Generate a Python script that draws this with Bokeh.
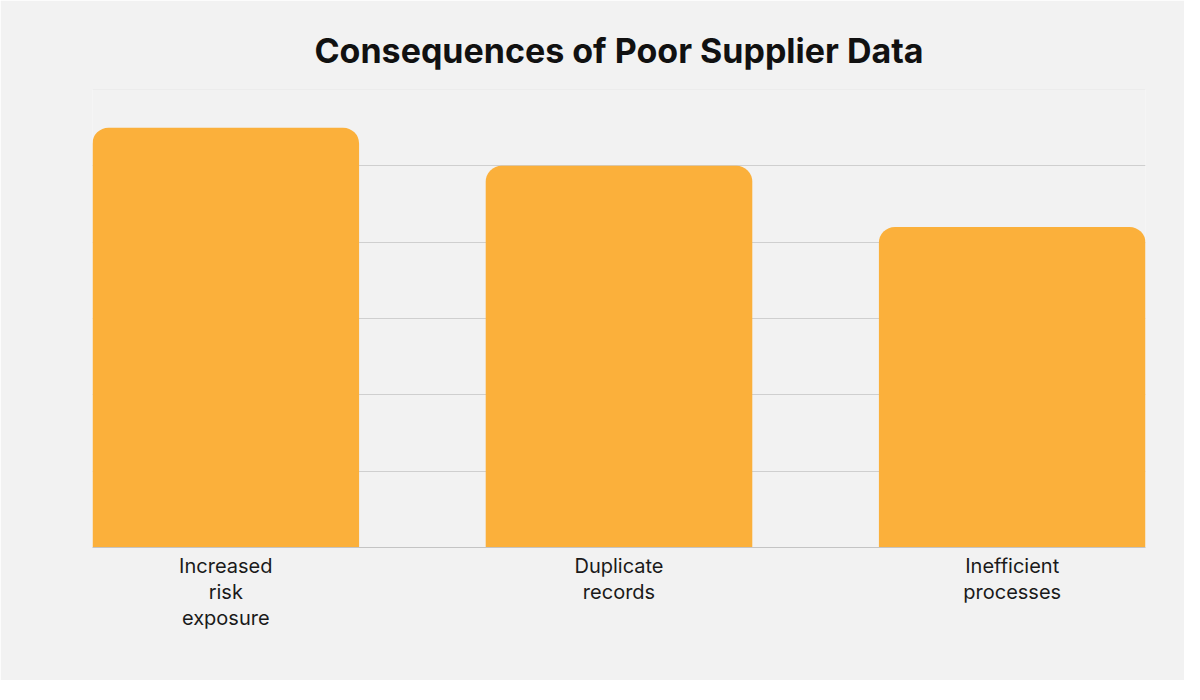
from bokeh.plotting import figure
from bokeh.models import Range1d, FixedTicker, Span, Title
from bokeh.embed import file_html
from bokeh.resources import INLINE

categories = ["Increased\nrisk\nexposure", "Duplicate\nrecords", "Inefficient\nprocesses"]
values = [5.5, 5.0, 4.2]
grid_ticks = [1, 2, 3, 4, 5]

bar_width = 0.678
xs = list(range(len(categories)))

p = figure(width=1184, height=680, output_backend="svg", toolbar_location=None,
           x_range=Range1d(-bar_width / 2, xs[-1] + bar_width / 2),
           y_range=Range1d(0, 6),
           min_border_left=92, min_border_right=39, min_border_bottom=133,
           min_border_top=89)

p.background_fill_color = "#f2f2f2"
p.border_fill_color = "#f2f2f2"
p.outline_line_color = None

t = Title(text="Consequences of Poor Supplier Data", align="center",
          text_font="Inter", text_font_size="34px", text_font_style="bold",
          text_color="#111111", standoff=38)
p.add_layout(t, "above")

p.vbar(x=xs, top=values, width=bar_width, bottom=0,
       fill_color="#fbb03b", line_color=None, border_radius=(16, 16, 0, 0))

p.ygrid.ticker = FixedTicker(ticks=grid_ticks)
p.ygrid.grid_line_color = "#cfcfcf"
p.xgrid.visible = False
p.ygrid.level = "underlay"
p.add_layout(Span(location=6, dimension="width", line_color="#e4e4e4", line_width=1, level="underlay"))

p.yaxis.visible = False
p.xaxis.ticker = FixedTicker(ticks=xs)
p.xaxis.major_label_overrides = {i: c for i, c in zip(xs, categories)}
p.xaxis.major_tick_line_color = None
p.xaxis.minor_tick_line_color = None
p.xaxis.axis_line_color = "#c4c4c4"
p.xaxis.major_label_text_font = "Inter"
p.xaxis.major_label_text_font_size = "20px"
p.xaxis.major_label_text_color = "#1a1a1a"
p.xaxis.major_label_text_line_height = 1.1
p.xaxis.major_label_standoff = 0

open("out.html", "w").write(file_html(p, INLINE))
